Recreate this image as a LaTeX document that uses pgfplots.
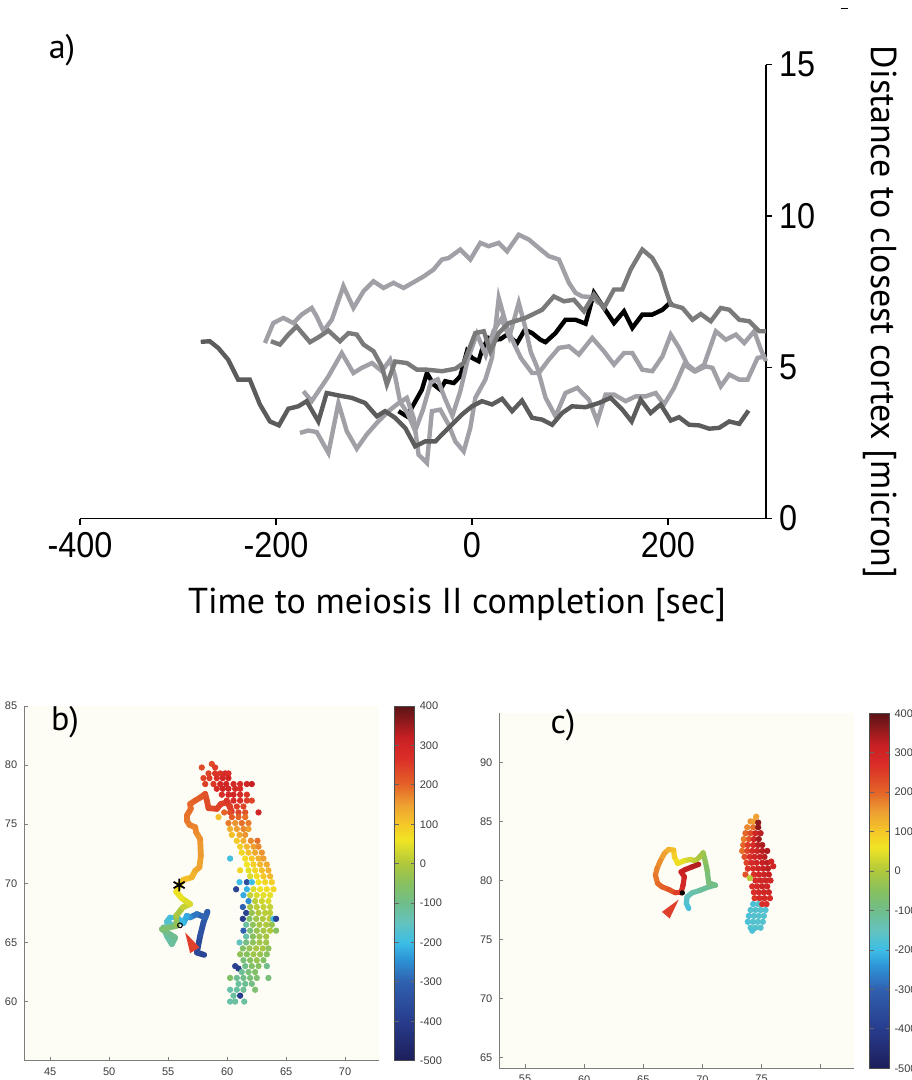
\documentclass[border=0pt]{standalone}
\usepackage{fontspec}
\setmainfont{Liberation Sans}
\newfontfamily\myr{PT Sans}
\newfontfamily\tickfont[FakeStretch=0.9]{Liberation Sans}
\usepackage{pgfplots}
\pgfplotsset{compat=1.18}
\definecolor{darkA}{RGB}{92,92,92}
\definecolor{medB}{RGB}{122,122,122}
\definecolor{lightG}{RGB}{160,160,166}
\definecolor{ivoryc}{RGB}{253,253,246}
\definecolor{spine}{RGB}{125,125,125}
\definecolor{ticktext}{RGB}{60,60,60}
\definecolor{arrowred}{RGB}{222,64,44}
\pgfplotsset{colormap={cellmap}{rgb255(0cm)=(28,30,90); rgb255(1cm)=(40,60,140); rgb255(2cm)=(48,96,176); rgb255(2.6cm)=(45,150,215); rgb255(3cm)=(60,190,230); rgb255(3.5cm)=(100,195,190); rgb255(4cm)=(112,190,140); rgb255(4.5cm)=(135,192,95); rgb255(5cm)=(175,200,60); rgb255(5.6cm)=(240,228,35); rgb255(6cm)=(245,200,40); rgb255(6.5cm)=(238,160,50); rgb255(7cm)=(228,100,40); rgb255(7.7cm)=(218,45,40); rgb255(8.2cm)=(200,32,35); rgb255(9cm)=(90,20,22)}}
\pgfplotsset{
  smallax/.style={
    scale only axis,
    axis x line*=bottom, axis y line*=left,
    xtick pos=bottom, ytick pos=left,
    axis line style={-, draw=spine, line width=0.5pt},
    axis background/.style={fill=ivoryc},
    tick align=inside, major tick length=2pt,
    tick style={spine, line width=0.4pt},
    ticklabel style={font=\fontsize{5.5}{6}\selectfont, text=ticktext},
    /pgf/number format/assume math mode=true,
    colormap name=cellmap, point meta min=-500, point meta max=400,
    colorbar,
    colorbar shift/.style={xshift=7.5pt},
    colorbar style={width=10pt, ytick={-500,-400,...,400},
      yticklabels={-500,-400,-300,-200,-100,0,100,200,300,400},
      tick align=inside, major tick length=2pt,
      tick style={black!60, line width=0.4pt},
      axis line style={draw=black!70, line width=0.4pt},
      yticklabel style={font=\fontsize{5.5}{6}\selectfont, text=ticktext, xshift=-1pt}},
  },
  dots/.style={scatter, only marks, mark=*, mark size=1.35pt, point meta=explicit,
    scatter/use mapped color={draw=mapped color, fill=mapped color}},
  track/.style={mesh, point meta=explicit, line width=2.9pt, line cap=round, line join=round},
}
\begin{document}
\begin{tikzpicture}
\useasboundingbox (0,0) rectangle (455.5pt,-540pt);
\draw[line width=0.5pt] (420.5pt,-4.5pt) -- (424pt,-4.5pt);
% ---------------- panel a ----------------
\begin{axis}[at={(40pt,-259.3pt)}, anchor=south west, scale only axis,
  width=343pt, height=227pt,
  xmin=-400, xmax=300, ymin=0, ymax=15,
  axis x line=bottom, axis y line=right,
  axis line style={-, black, line width=0.6pt},
  xtick={-400,-200,0,200}, xticklabels={-400,-200,0,200},
  ytick={0,5,10,15}, yticklabels={0,5,10,15},
  tick align=outside, major tick length=3pt,
  tick style={black, line width=0.6pt},
  ticklabel style={font=\tickfont\fontsize{18}{18}\selectfont},
  xticklabel style={yshift=-0.5pt},
  clip=false]
\addplot[black, line width=2.2pt] coordinates {(-75,3.55) (-66.5,3.38) (-59.6,3.77) (-51.1,4.26) (-46,4.81) (-39.2,4.43) (-32.4,4.26) (-27.3,4.54) (-18.7,4.48) (-12,4.7) (-5.1,5.53) (0,5.31) (6.8,5.2) (10.2,5.58) (17,5.97) (22.2,5.91) (29,5.93) (35.8,6.08) (46,5.8) (53.9,6.24) (61.3,6.13) (69.8,5.91) (75,5.83) (85.2,6.13) (95.4,6.57) (105.6,6.57) (115.9,6.44) (124.4,7.46) (134.6,6.96) (144.9,6.46) (155.1,6.85) (163.6,6.3) (173.8,6.74) (184,6.74) (194.3,6.9) (203.8,7.18)};
\addplot[lightG, line width=2.2pt] coordinates {(-211.3,5.8) (-202.8,6.46) (-192.5,6.63) (-182.3,6.46) (-173.8,6.74) (-163.6,6.96) (-158.5,6.68) (-151.6,6.2) (-143,6.57) (-131.2,7.68) (-121,6.96) (-110.7,7.51) (-100.5,7.84) (-90.3,7.62) (-80.1,7.79) (-69.8,7.62) (-58,7.84) (-49.4,8.0) (-39.2,8.23) (-30.7,8.56) (-23.8,8.61) (-12,8.89) (-1.7,8.56) (8.5,9.11) (17,9.0) (27.3,9.11) (35.8,8.83) (47.7,9.38) (58,9.22) (68.2,8.94) (78.4,8.67) (88.7,8.56) (98.9,7.79) (105.6,7.46) (112.5,7.34) (122.7,7.32) (130,7.1)};
\addplot[lightG, line width=2.2pt] coordinates {(-172.1,4.21) (-163.6,3.88) (-146.5,4.7) (-132.9,5.47) (-121,4.81) (-112.5,4.98) (-102,5.14) (-92,4.87) (-83.5,5.25) (-78.4,4.7) (-73.3,3.85) (-66,3.5) (-58,2.9) (-50,3.6) (-42,4.5) (-35,4.6) (-28,4.0) (-20,3.4) (-12,4.2) (-4,5.3) (5,6.1) (14,5.4) (22,6.2) (30,6.6) (38,6.0) (47.7,7.13) (54.5,6.3) (60,5.5) (66.5,5.0) (75,4.0) (85.2,3.38) (95.4,4.15) (107.4,4.32) (119.3,3.93) (127.8,3.21) (136.3,4.1) (144.9,4.1) (156.8,3.88) (167,4.04) (177.2,4.04) (187.4,4.15) (196,3.77) (206.2,4.32) (216.5,5.09) (226.7,4.87) (236.9,5.09) (248.8,6.19) (259,5.91) (269.2,6.08) (277.8,5.8) (288,6.19) (294.8,5.58) (300,5.2)};
\addplot[lightG, line width=2.2pt] coordinates {(-175.5,2.83) (-167,2.91) (-158.5,2.86) (-146.5,2.17) (-136.3,3.82) (-127.8,2.89) (-117.6,2.31) (-107.4,2.78) (-97.1,3.16) (-85.2,3.55) (-76.7,3.77) (-66.5,3.99) (-59.6,3.33) (-54.5,2.11) (-46,1.84) (-40.9,3.55) (-32.4,3.6) (-23.8,3.1) (-17,2.55) (-8.5,2.22) (-1.7,3.0) (3.4,3.99) (13.6,4.59) (20.4,5.31) (27.3,7.29) (35.8,6.3) (42.6,5.8) (50,5.3) (61.3,4.81) (68.2,4.81) (78.4,5.25) (88.7,5.64) (98.9,5.69) (109.1,5.42) (122.7,5.97) (134.6,5.53) (144.9,5.09) (155.1,5.47) (163.6,5.47) (173.8,4.92) (184,4.87) (194.3,5.36) (202.8,6.08) (211.3,5.64) (219.8,5.09) (228.3,4.87) (238.5,5.03) (245.4,4.98) (253.9,4.37) (262.5,4.76) (272.7,4.59) (281.2,4.59) (291.4,5.31) (300,5.36)};
\addplot[medB, line width=2.2pt] coordinates {(-205.2,5.86) (-196,5.75) (-187.4,6.08) (-179,6.35) (-165.3,5.83) (-156.8,5.99) (-146.5,6.21) (-134.7,5.86) (-126.1,6.13) (-117.6,6.08) (-110.7,5.75) (-100.5,5.53) (-92,5.03) (-86.9,4.43) (-78.4,5.19) (-66.5,5.14) (-56.2,4.92) (-46,4.92) (-30.7,4.87) (-17,4.95) (-8.5,5.14) (3.4,6.13) (12,6.19) (18.7,5.53) (27.3,6.13) (37.5,6.46) (54.5,6.63) (71.6,6.9) (83.5,7.34) (93.8,7.18) (104,7.23) (114.2,6.85) (124.4,7.4) (134.6,6.96) (144.9,7.57) (153.4,7.57) (161.9,8.23) (173.8,8.89) (184,8.61) (192.5,8.12) (197.6,7.57) (202.8,7.07) (214.7,6.96) (225,6.57) (233.4,6.76) (243.7,6.52) (253.9,6.96) (262.5,6.9) (272.7,6.57) (283,6.52) (293.1,6.19) (300,6.19)};
\addplot[darkA, line width=2.2pt] coordinates {(-276.8,5.84) (-267.6,5.86) (-259,5.64) (-248.8,5.25) (-238.6,4.59) (-226.7,4.59) (-216.4,3.77) (-206.2,3.21) (-197,3.08) (-187.4,3.63) (-177.2,3.71) (-168.7,3.88) (-156.8,3.21) (-148.3,4.15) (-136.3,4.07) (-122.7,3.99) (-109.1,3.82) (-97.1,3.38) (-88.7,3.55) (-78.4,3.33) (-68.2,3.0) (-58,2.39) (-47.7,2.55) (-37.5,2.55) (-23.8,3.0) (-10.2,3.44) (0,3.71) (10.2,3.88) (20.4,3.77) (30.7,3.96) (40.9,3.55) (51,3.9) (61.3,3.33) (71.6,3.27) (81.8,3.1) (92,3.49) (102,3.71) (115.9,3.68) (129.5,3.82) (141.4,3.99) (153.4,3.6) (162.9,3.21) (172.1,3.93) (182.3,3.49) (192.5,3.77) (202.8,3.24) (211.3,3.35) (221.6,3.1) (231.8,3.08) (242,2.97) (252.3,3.0) (262.5,3.21) (272.7,3.13) (282.2,3.57)};
\end{axis}
\node[font=\myr\fontsize{18}{18}\selectfont] at (228.5pt,-302.5pt) {Time to meiosis II completion [sec]};
\node[font=\myr\fontsize{18}{18}\selectfont, rotate=-90] at (440pt,-156pt) {Distance to closest cortex [micron]};
\node[font=\myr\fontsize{17}{17}\selectfont] at (31pt,-25pt) {a)};
% ---------------- panel b ----------------
\begin{axis}[smallax, at={(12.15pt,-530.35pt)}, anchor=south west,
  width=177.5pt, height=177.35pt,
  xmin=42.8, xmax=72.9, ymin=55, ymax=85,
  xtick={45,50,...,70}, ytick={60,65,...,85}]
\addplot[dots] table[meta=c] {
x y c
57.85 79.8 230
58.70 80.1 230
58.98 79.8 250
58.42 79.3 240
58.98 79.3 260
59.41 79.3 260
59.83 79.3 280
60.11 79.3 270
57.99 78.9 240
58.50 78.9 250
59.12 78.9 270
59.63 78.9 290
60.11 78.9 300
58.14 78.4 250
58.84 78.4 260
59.41 78.4 290
59.92 78.4 300
60.54 78.4 290
61.10 78.4 280
61.67 78.4 300
62.09 78.4 320
59.12 78.0 280
59.63 78.0 300
60.11 78.0 300
60.68 78.0 290
61.10 78.0 280
59.55 77.5 270
60.11 77.5 290
60.54 77.5 300
61.10 77.5 280
61.67 77.5 260
59.97 77.0 260
60.54 77.0 280
61.10 77.0 270
61.67 77.0 250
62.09 77.0 240
60.25 76.5 250
60.82 76.5 250
61.38 76.5 240
59.75 76.0 200
60.25 76.0 230
60.96 76.0 240
61.53 76.0 220
62.66 76.0 300
59.27 75.6 110
60.40 75.6 210
60.96 75.6 200
61.53 75.6 190
60.11 75.1 180
60.68 75.1 160
61.24 75.1 190
61.81 75.1 180
60.25 74.6 130
60.82 74.6 150
61.38 74.6 170
61.81 74.6 150
60.40 74.1 110
61.05 74.1 140
61.53 74.1 160
60.82 73.6 100
61.38 73.6 130
62.01 73.6 170
62.57 73.6 190
61.10 73.1 90
61.67 73.1 120
62.23 73.1 150
62.66 73.1 170
61.24 72.6 80
61.81 72.6 110
62.37 72.6 140
62.94 72.6 160
60.25 72.1 -190
61.53 72.1 70
62.09 72.1 100
62.66 72.1 130
63.08 72.1 150
61.67 71.6 60
62.23 71.6 90
62.80 71.6 120
63.36 71.6 140
61.10 71.1 80
61.81 71.1 50
62.37 71.1 80
62.94 71.1 110
63.50 71.1 130
61.95 70.6 40
62.51 70.6 70
63.08 70.6 100
63.64 70.6 120
61.05 70.1 -200
61.67 70.1 -350
62.09 70.1 -200
62.66 70.1 60
63.22 70.1 80
63.79 70.1 90
60.76 69.5 -380
61.67 69.5 -210
62.23 69.5 40
62.80 69.5 60
63.36 69.5 70
63.93 69.5 80
61.38 69.0 -220
61.95 69.0 20
62.51 69.0 40
63.08 69.0 50
63.64 69.0 50
61.81 68.5 -250
62.37 68.5 10
62.94 68.5 30
63.50 68.5 40
61.33 68.0 -300
61.95 68.0 -10
62.51 68.0 10
63.08 68.0 20
63.64 68.0 20
61.61 67.5 -380
62.09 67.5 -30
62.66 67.5 0
63.22 67.5 10
63.64 67.5 10
61.33 67.0 -400
61.89 67.0 -60
62.46 67.0 -20
63.02 67.0 0
63.59 67.0 10
63.93 67.0 -200
64.15 67.0 -380
61.61 66.5 -120
62.18 66.5 -40
62.74 66.5 -10
63.31 66.5 0
63.79 66.5 -30
61.38 66.0 -300
61.95 66.0 -80
62.51 66.0 -30
63.08 66.0 -10
63.64 66.0 0
64.15 66.0 -50
61.61 65.5 -130
62.18 65.5 -50
62.74 65.5 -20
63.31 65.5 -10
61.05 65.0 -150
61.61 65.0 -90
62.18 65.0 -40
62.74 65.0 -20
63.31 65.0 -20
61.33 64.5 -60
61.89 64.5 -30
62.46 64.5 -10
63.02 64.5 -10
63.50 64.5 -40
61.10 64.0 -40
61.67 64.0 -50
62.23 64.0 -20
62.80 64.0 -30
63.36 64.0 -50
61.38 63.5 -80
61.95 63.5 -50
62.51 63.5 -30
63.08 63.5 -60
60.68 63.0 -380
60.96 62.8 -400
61.53 63.0 -100
62.09 63.0 -60
62.66 63.0 -50
63.36 63.0 -100
61.24 62.5 -110
61.81 62.5 -80
62.37 62.5 -60
60.25 62.0 -60
60.82 62.0 -110
61.38 62.0 -100
61.95 62.0 -80
62.51 62.0 -70
63.50 62.0 -80
60.96 61.5 -120
61.53 61.5 -110
62.09 61.5 -90
60.25 61.0 -130
60.82 61.0 -120
61.38 61.0 -110
62.37 61.0 -70
60.54 60.5 -120
61.10 60.5 -400
60.25 60.0 -130
60.68 60.0 -120
61.45 60.0 -120
};
\addplot[track] table[meta=c] {
x y c
58.05 63.95 -380
57.43 64.15 -370
57.71 65.56 -350
57.99 66.69 -330
58.33 67.60 -310
58.14 67.12 -300
57.43 67.40 -290
56.86 67.12 -260
56.58 67.25 -230
56.30 66.64 -210
55.73 67.12 -200
55.17 67.12 -190
54.89 66.75 -180
55.45 66.41 -160
54.60 66.27 -140
54.89 65.56 -130
55.31 64.86 -120
55.59 65.42 -110
54.89 65.85 -100
54.47 66.13 -90
55.73 66.41 -50
55.68 67.25 -20
56.24 67.97 10
56.86 68.25 30
56.16 68.73 50
55.68 69.29 60
55.93 69.86 70
56.30 70.31 100
57.00 70.51 120
57.29 71.07 130
57.65 71.36 140
57.77 72.34 150
57.71 73.75 160
57.37 74.32 165
57.29 74.75 170
56.81 74.94 175
56.58 75.31 180
56.58 75.73 185
56.92 76.30 190
56.86 76.72 195
57.29 77.00 200
57.77 77.29 210
58.14 77.57 220
58.28 77.00 225
58.42 76.36 230
59.13 76.30 240
59.47 76.72 245
60.03 76.86 250
60.40 76.06 260
};
\addplot[fill=arrowred, draw=none] coordinates {(56.44,65.85) (57.65,64.58) (56.86,64.09)} --cycle;
\addplot[only marks, mark=o, mark size=1.2pt, black, line width=0.5pt] coordinates {(56.0,66.45)};
\addplot[only marks, mark=asterisk, mark size=3.2pt, black, line width=0.9pt] coordinates {(55.93,69.86)};
\end{axis}
\node[font=\myr\fontsize{17}{17}\selectfont] at (32.5pt,-361pt) {b)};
% ---------------- panel c ----------------
\begin{axis}[smallax, at={(249.65pt,-534.15pt)}, anchor=south west,
  width=177.35pt, height=177.5pt,
  xmin=52.82, xmax=82.82, ymin=64.1, ymax=94.15,
  xtick={55,60,...,80}, xticklabels={55,60,65,70,75,{}}, ytick={65,70,...,90}]
\addplot[dots] table[meta=c] {
x y c
74.55 85.4 150
74.07 85.0 160
74.35 85.0 150
74.72 84.9 360
73.79 84.5 170
74.29 84.5 190
74.72 84.5 360
73.64 84.0 200
74.07 84.0 230
74.49 84.0 300
74.92 84.0 330
73.50 83.5 180
73.93 83.5 220
74.35 83.5 300
74.77 83.5 350
73.45 83.0 200
73.84 83.0 250
74.29 83.0 280
74.69 83.0 330
75.06 83.0 340
73.36 82.5 190
73.79 82.5 240
74.21 82.5 280
74.63 82.5 310
75.06 82.5 330
75.48 82.5 340
73.56 82.0 230
74.01 82.0 270
74.41 82.0 300
74.86 82.0 320
75.25 82.0 330
73.73 81.5 240
74.15 81.5 280
74.58 81.5 300
75.06 81.5 320
75.48 81.5 330
75.82 81.6 300
73.84 81.0 260
74.29 81.0 280
74.72 81.0 300
75.14 81.0 320
75.54 81.0 330
75.99 81.2 300
73.64 80.5 220
74.35 80.5 270
74.77 80.5 300
75.20 80.5 310
75.62 80.5 320
74.01 80.2 10
74.49 80.0 280
74.92 80.0 300
75.34 80.0 310
75.76 80.0 300
74.21 79.5 270
74.63 79.5 290
75.06 79.5 310
75.48 79.5 300
74.35 79.0 270
74.77 79.0 290
75.20 79.0 300
75.62 79.0 300
74.41 78.5 260
74.83 78.5 280
75.25 78.5 290
75.71 78.5 280
74.29 78.0 -180
74.72 78.0 -170
75.06 78.0 270
75.42 78.0 270
74.07 77.5 -170
74.49 77.5 -170
74.92 77.5 -170
75.34 77.5 -170
73.93 77.0 -180
74.35 77.0 -170
74.77 77.0 -170
75.20 77.0 -170
73.84 76.5 -180
74.27 76.5 -170
74.69 76.5 -170
75.11 76.5 -170
74.07 76.0 -170
74.49 76.0 -170
74.92 76.0 -170
74.21 75.75 -180
};
\addplot[track, line width=2.6pt] table[meta=c] {
x y c
68.84 77.63 -190
68.64 78.05 -180
68.70 78.61 -160
69.12 78.95 -140
69.83 79.18 -120
70.53 79.46 -110
71.10 79.60 -100
70.53 79.80 -90
70.40 80.87 -70
70.25 81.58 -50
70.06 82.34 -30
69.77 82.00 -10
69.41 81.66 0
68.98 81.78 20
68.42 81.66 40
67.91 81.44 60
67.63 82.00 80
67.57 82.57 100
67.14 82.63 120
66.78 82.29 140
66.44 81.66 160
66.16 81.02 170
66.02 80.45 180
66.21 79.75 190
66.58 79.46 200
67.14 79.24 210
67.71 78.95 230
68.19 78.95 260
68.36 79.60 280
68.47 80.31 300
68.19 80.73 310
68.56 80.93 320
69.12 81.15 330
69.69 81.36 340
};
\addplot[fill=arrowred, draw=none] coordinates {(68.0,78.39) (66.58,77.34) (67.23,76.78)} --cycle;
\addplot[only marks, mark=*, mark size=1.1pt, black] coordinates {(68.3,78.95)};
\end{axis}
\node[font=\myr\fontsize{17}{17}\selectfont] at (281.5pt,-362.5pt) {c)};
\end{tikzpicture}
\end{document}
